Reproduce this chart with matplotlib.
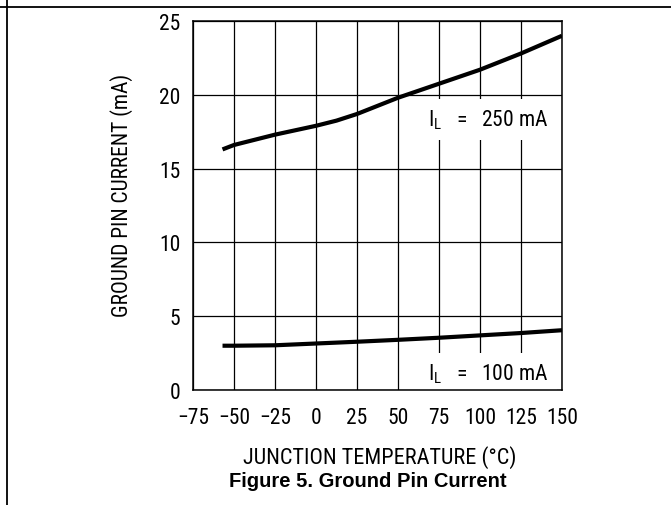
import matplotlib
matplotlib.use("Agg")
import matplotlib.pyplot as plt
from matplotlib.lines import Line2D

# ---- data ----
temps_250 = [-57, -50, -25, 0, 12.5, 25, 50, 75, 100, 125, 150]
current_250 = [16.3, 16.6, 17.3, 17.9, 18.25, 18.7, 19.8, 20.75, 21.7, 22.8, 24.0]
temps_100 = [-57, -50, -25, 0, 25, 50, 75, 100, 125, 150]
current_100 = [3.0, 3.0, 3.03, 3.15, 3.27, 3.4, 3.54, 3.7, 3.86, 4.05]
x_ticks = [-75, -50, -25, 0, 25, 50, 75, 100, 125, 150]
y_ticks = [0, 5, 10, 15, 20, 25]
label_250 = r"I$_\mathrm{L}$   =   250 mA"
label_100 = r"I$_\mathrm{L}$   =   100 mA"
x_label = "JUNCTION TEMPERATURE (°C)"
y_label = "GROUND PIN CURRENT (mA)"
caption = "Figure 5. Ground Pin Current"

narrow = ["Roboto Condensed", "DejaVu Sans"]
plt.rcParams["font.family"] = narrow
plt.rcParams["mathtext.fontset"] = "custom"
plt.rcParams["mathtext.rm"] = "Roboto Condensed"
plt.rcParams["mathtext.it"] = "Roboto Condensed"

W, H = 671, 506
fig = plt.figure(figsize=(W / 100, H / 100), dpi=100)
L, R, T, B = 193, 562, 22, 391
ax = fig.add_axes([L / W, 1 - B / H, (R - L) / W, (B - T) / H])

ax.plot(temps_250, current_250, color="black", lw=3.0, solid_capstyle="butt", zorder=3)
ax.plot(temps_100, current_100, color="black", lw=3.0, solid_capstyle="butt", zorder=3)

ax.set_xlim(-75, 150)
ax.set_ylim(0, 25)
ax.set_xticks(x_ticks)
ax.set_yticks(y_ticks)
ax.grid(True, color="black", lw=0.9, zorder=1)
ax.set_axisbelow(True)
ax.tick_params(length=0, labelsize=15.5, colors="black")
ax.tick_params(axis="x", pad=12)
ax.tick_params(axis="y", pad=9)
for s in ax.spines.values():
    s.set_linewidth(1.1)
    s.set_color("black")

ax.text(68.5, 17.9, label_250, ha="left", va="baseline", fontsize=15.5,
        bbox=dict(facecolor="white", edgecolor="none", pad=6), zorder=2)
ax.text(68.5, 0.75, label_100, ha="left", va="baseline", fontsize=15.5,
        bbox=dict(facecolor="white", edgecolor="none", pad=6), zorder=2)

ax.set_xlabel(x_label, fontsize=16)
ax.xaxis.set_label_coords(0.5 + 2.5 / (R - L), (B - 446) / (B - T))
ax.xaxis.label.set_va("top")
ax.set_ylabel(y_label, fontsize=15.5)
ax.yaxis.set_label_coords((133 - L) / (R - L), 1 - (195 - T) / (B - T))

fig.text(367.5 / W, 1 - 487 / H, caption, ha="center", va="baseline",
         fontsize=14.5, fontweight="bold", family=["Liberation Sans", "DejaVu Sans"])

# page frame lines
fig.add_artist(Line2D([0, 1], [1 - 8 / H, 1 - 8 / H], transform=fig.transFigure, color="black", lw=1.3))
fig.add_artist(Line2D([7 / W, 7 / W], [0, 1], transform=fig.transFigure, color="black", lw=1.3))

fig.savefig("out.png", dpi=100, facecolor="white")
